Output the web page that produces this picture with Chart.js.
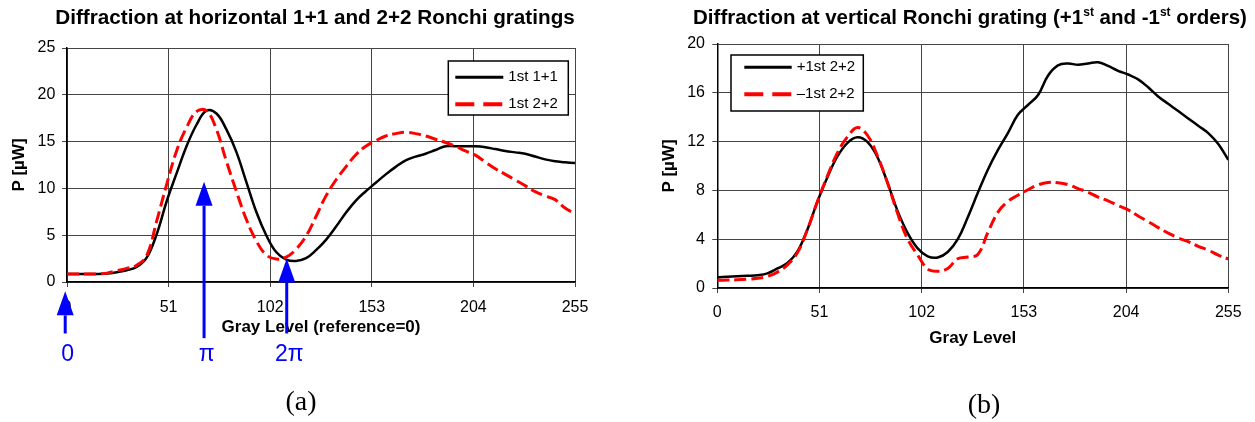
<!DOCTYPE html>
<html>
<head>
<meta charset="utf-8">
<title>Ronchi grating diffraction</title>
<script src="https://cdn.jsdelivr.net/npm/chart.js@4.4.1/dist/chart.umd.min.js"></script>
<style>
  html, body { margin: 0; padding: 0; background: #fff; }
  #wrap { position: relative; width: 1255px; height: 422px; overflow: hidden; }
  #wrap canvas { position: absolute; top: 0; }
  #chartA { left: 0; }
  #chartB { left: 630px; }
</style>
</head>
<body>
<div id="wrap">
  <canvas id="chartA" width="620" height="422"></canvas>
  <canvas id="chartB" width="625" height="422"></canvas>
</div>
<script>
// gray levels (x) shared by all four curves
const grayLevels = [0, 5, 10, 15, 20, 25, 30, 35, 40, 45, 50, 55, 60, 65, 70, 75, 80, 85, 90, 95,
    100, 105, 110, 115, 120, 125, 130, 135, 140, 145, 150, 155, 160, 165, 170, 175, 180, 185, 190, 195,
    200, 205, 210, 215, 220, 225, 230, 235, 240, 245, 250, 255];
const grayTicks = [0, 51, 102, 153, 204, 255];

// (a) horizontal gratings, P [uW]
const horiz11 = [0.85, 0.85, 0.85, 0.85, 0.9, 1.05, 1.25, 1.6, 2.6, 5.1, 8.6, 11.6, 14.5, 16.8, 18.3, 18.0, 16.3, 13.9, 10.7, 7.5,
    5.0, 3.2, 2.4, 2.25, 2.55, 3.4, 4.5, 5.9, 7.4, 8.7, 9.7, 10.6, 11.5, 12.3, 13.0, 13.4, 13.7, 14.1, 14.5, 14.5,
    14.5, 14.5, 14.4, 14.2, 14.0, 13.85, 13.7, 13.4, 13.1, 12.9, 12.8, 12.7];
const horiz22 = [0.85, 0.85, 0.85, 0.85, 0.95, 1.2, 1.45, 1.8, 2.8, 6.5, 10.4, 14.0, 16.5, 18.2, 18.3, 16.3, 12.9, 9.7, 6.7, 4.4,
    2.9, 2.45, 2.65, 3.5, 4.9, 7.0, 9.2, 10.9, 12.3, 13.6, 14.5, 15.1, 15.6, 15.85, 16.0, 15.85, 15.6, 15.25, 14.9, 14.5,
    14.0, 13.55, 12.8, 12.1, 11.5, 10.9, 10.3, 9.65, 9.2, 8.8, 7.9, 7.3];

// (b) vertical grating, P [uW]
const vertPlus = [0.87, 0.92, 0.96, 1.0, 1.05, 1.2, 1.6, 2.05, 3.0, 4.8, 7.1, 9.1, 10.8, 11.9, 12.35, 11.95, 10.7, 8.6, 6.3, 4.5,
    3.25, 2.6, 2.5, 2.95, 4.0, 5.8, 7.8, 9.7, 11.3, 12.7, 14.2, 15.0, 15.8, 17.4, 18.25, 18.4, 18.3, 18.4, 18.5, 18.2,
    17.8, 17.5, 17.1, 16.45, 15.7, 15.1, 14.5, 13.9, 13.3, 12.7, 11.8, 10.5];
const vertMinus = [0.63, 0.65, 0.67, 0.72, 0.8, 0.95, 1.3, 1.9, 2.9, 4.8, 7.1, 9.2, 11.1, 12.4, 13.15, 12.5, 10.8, 8.6, 6.1, 4.0,
    2.7, 1.55, 1.37, 1.6, 2.4, 2.54, 2.75, 4.55, 6.2, 7.1, 7.6, 8.05, 8.45, 8.65, 8.62, 8.47, 8.15, 7.85, 7.45, 7.15,
    6.75, 6.4, 5.9, 5.45, 4.95, 4.5, 4.1, 3.8, 3.42, 3.1, 2.7, 2.38];

// phase markers under chart (a)
const arrowGray = [-0.9, 68.8, 110.3];
const arrowTip = [-1.0, 10.7, 2.5];
const arrowTail = [-5.5, -6.0, -5.5];
const arrowText = ['0', 'π', '2π'];

const FONT = '"Liberation Sans", Arial, sans-serif';
Chart.defaults.font.family = FONT;
Chart.defaults.color = '#000';

const toPoints = (ys) => grayLevels.map((g, i) => ({ x: g, y: ys[i] }));

/**
 * title with superscripts
 */
const supTitle = {
    id: 'supTitle',
    afterDraw(chart, args, o) {
        const ctx = chart.ctx;
        ctx.save();
        const main = `bold ${o.size}px ${FONT}`;
        const sup = `bold ${o.supSize}px ${FONT}`;
        let total = 0;
        o.parts.forEach(p => { ctx.font = p.sup ? sup : main; total += ctx.measureText(p.text).width; });
        let x = o.x - total / 2;
        ctx.fillStyle = '#000';
        ctx.textAlign = 'left';
        ctx.textBaseline = 'alphabetic';
        o.parts.forEach(p => {
            ctx.font = p.sup ? sup : main;
            ctx.fillText(p.text, x, p.sup ? o.y - o.supRise : o.y);
            x += ctx.measureText(p.text).width;
        });
        ctx.restore();
    }
};

/**
 * boxed legend inside the plot
 */
const boxLegend = {
    id: 'boxLegend',
    afterDraw(chart, args, o) {
        const ctx = chart.ctx;
        ctx.save();
        ctx.fillStyle = '#fff';
        ctx.fillRect(o.left, o.top, o.width, o.height);
        ctx.strokeStyle = '#000';
        ctx.lineWidth = 1.5;
        ctx.strokeRect(o.left, o.top, o.width, o.height);
        ctx.font = `${o.fontSize}px ${FONT}`;
        ctx.textBaseline = 'middle';
        ctx.textAlign = 'left';
        chart.data.datasets.forEach((ds, i) => {
            const y = o.top + o.firstRow + i * o.rowGap;
            ctx.beginPath();
            ctx.setLineDash(ds.legendDash || []);
            ctx.strokeStyle = ds.borderColor;
            ctx.lineWidth = ds.legendWidth;
            ctx.moveTo(o.left + o.sampleFrom, y);
            ctx.lineTo(o.left + o.sampleTo, y);
            ctx.stroke();
            ctx.setLineDash([]);
            ctx.fillStyle = '#000';
            ctx.fillText(ds.label, o.left + o.textAt, y);
        });
        ctx.restore();
    }
};

/**
 * (a) / (b) caption
 */
const caption = {
    id: 'caption',
    afterDraw(chart, args, o) {
        const ctx = chart.ctx;
        ctx.save();
        ctx.font = `${o.size}px "Liberation Serif", "DejaVu Serif", serif`;
        ctx.fillStyle = '#000';
        ctx.textAlign = 'center';
        ctx.textBaseline = 'middle';
        ctx.fillText(o.text, o.x, o.y);
        ctx.restore();
    }
};

/**
 * blue phase arrows (0, pi, 2pi)
 */
const phaseArrows = {
    id: 'phaseArrows',
    afterDraw(chart, args, o) {
        const { ctx, scales: { x, y } } = chart;
        ctx.save();
        ctx.fillStyle = o.color;
        ctx.strokeStyle = o.color;
        arrowGray.forEach((g, i) => {
            const px = x.getPixelForValue(g);
            const tip = y.getPixelForValue(arrowTip[i]);
            const tail = y.getPixelForValue(arrowTail[i]);
            ctx.lineWidth = o.shaft;
            ctx.beginPath();
            ctx.moveTo(px, tail);
            ctx.lineTo(px, tip + o.head);
            ctx.stroke();
            ctx.beginPath();
            ctx.moveTo(px, tip);
            ctx.lineTo(px - o.half, tip + o.head);
            ctx.lineTo(px + o.half, tip + o.head);
            ctx.closePath();
            ctx.fill();
            ctx.font = `${o.fontSize}px ${FONT}`;
            ctx.textAlign = 'center';
            ctx.textBaseline = 'middle';
            ctx.fillText(arrowText[i], px + 2.5, y.getPixelForValue(o.labelLevel));
        });
        ctx.restore();
    }
};

let setScales = (s) => {
    return {
        x: {
            type: 'linear',
            min: 0,
            max: 255,
            afterBuildTicks: (scale) => { scale.ticks = grayTicks.map(v => ({ value: v })); },
            afterFit: (scale) => { scale.height = s.xHeight; },
            ticks: { font: { size: 16 }, padding: s.xTickPad, color: '#000', autoSkip: false, maxRotation: 0 },
            grid: { color: '#454545', lineWidth: 1, tickLength: 5 },
            border: { color: '#000', width: 1.5 },
            title: { display: true, text: s.xTitle, font: { size: 17, weight: 'bold' }, padding: { top: 0, bottom: 0 } }
        },
        y: {
            min: 0,
            max: s.yMax,
            afterFit: (scale) => { scale.width = s.yWidth; },
            ticks: { stepSize: s.yStep, font: { size: 16 }, padding: s.yTickPad, color: '#000' },
            grid: { color: '#454545', lineWidth: 1, tickLength: 5 },
            border: { color: '#000', width: 1.5 },
            title: { display: true, text: 'P [µW]', font: { size: 17, weight: 'bold' }, padding: { top: s.yTitlePad, bottom: 0 } }
        }
    };
};

let lineSet = (label, ys, color, dashed) => {
    return {
        label: label,
        data: toPoints(ys),
        borderColor: color,
        backgroundColor: color,
        borderWidth: dashed ? 3 : 2.5,
        borderDash: dashed ? [12, 5] : [],
        legendDash: dashed ? [19, 9] : [],
        legendWidth: dashed ? 4 : 3,
        order: dashed ? 0 : 1,
        pointRadius: 0,
        tension: 0.4,
        fill: false
    };
};

let chartA = new Chart(document.getElementById('chartA'), {
    type: 'line',
    data: {
        datasets: [
            lineSet('1st 1+1', horiz11, '#000', false),
            lineSet('1st 2+2', horiz22, '#ff0000', true)
        ]
    },
    options: {
        responsive: false,
        animation: false,
        layout: { padding: { left: 0, right: 45, top: 48, bottom: 84.3 } },
        plugins: {
            legend: { display: false },
            tooltip: { enabled: false },
            supTitle: {
                x: 315, y: 23.5, size: 20.7, supSize: 12, supRise: 8,
                parts: [{ text: 'Diffraction at horizontal 1+1 and 2+2 Ronchi gratings' }]
            },
            boxLegend: { left: 448.3, top: 61, width: 120, height: 54, firstRow: 16.3, rowGap: 27, sampleFrom: 7, sampleTo: 55, textAt: 60, fontSize: 15 },
            caption: { text: '(a)', x: 301, y: 403, size: 28 },
            phaseArrows: { color: '#0000ff', shaft: 3, head: 24, half: 8.5, fontSize: 23, labelLevel: -7.8 }
        },
        scales: setScales({ xTitle: 'Gray Level (reference=0)', yMax: 25, yStep: 5, yWidth: 67, xHeight: 55.7, xTickPad: 10.6, yTickPad: 6.7, yTitlePad: 8.8 })
    },
    plugins: [supTitle, boxLegend, caption, phaseArrows]
});

let chartB = new Chart(document.getElementById('chartB'), {
    type: 'line',
    data: {
        datasets: [
            lineSet('+1st 2+2', vertPlus, '#000', false),
            lineSet('\u20131st 2+2', vertMinus, '#ff0000', true)
        ]
    },
    options: {
        responsive: false,
        animation: false,
        layout: { padding: { left: 0, right: 26.7, top: 44, bottom: 73.6 } },
        plugins: {
            legend: { display: false },
            tooltip: { enabled: false },
            supTitle: {
                x: 340, y: 23.5, size: 20.5, supSize: 12, supRise: 8,
                parts: [
                    { text: 'Diffraction at vertical Ronchi grating (+1' },
                    { text: 'st', sup: true },
                    { text: ' and -1' },
                    { text: 'st', sup: true },
                    { text: ' orders)' }
                ]
            },
            boxLegend: { left: 101, top: 55, width: 132.3, height: 56, firstRow: 12.3, rowGap: 27, sampleFrom: 13.3, sampleTo: 60.7, textAt: 65.7, fontSize: 15 },
            caption: { text: '(b)', x: 354, y: 406, size: 28 }
        },
        scales: setScales({ xTitle: 'Gray Level', yMax: 20, yStep: 4, yWidth: 87.3, xHeight: 60.4, xTickPad: 9.9, yTickPad: 7.3, yTitlePad: 29.3 })
    },
    plugins: [supTitle, boxLegend, caption]
});
</script>
</body>
</html>
